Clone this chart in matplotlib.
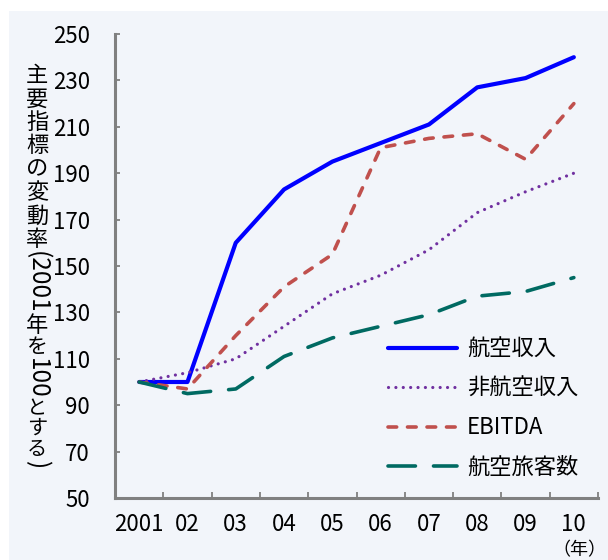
import matplotlib.pyplot as plt
import numpy as np
from matplotlib.patches import Rectangle
from matplotlib.font_manager import FontProperties

plt.rcParams['font.family'] = ['Noto Sans CJK JP', 'DejaVu Sans']

years = ['2001', '02', '03', '04', '05', '06', '07', '08', '09', '10']
air_rev = [100, 100, 160, 183, 195, 203, 211, 227, 231, 240]
nonair_rev = [100, 104, 110, 124, 138, 146, 157, 173, 182, 190]
ebitda = [100, 97, 120, 141, 155, 201, 205, 207, 196, 220]
passengers = [100, 95, 97, 111, 119, 124, 129, 137, 139, 145]

W, H = 608, 560
bg = '#f2f5fa'
grey = '#808080'

fig = plt.figure(figsize=(W / 100, H / 100), dpi=100)
fig.patches.append(Rectangle((9 / W, 0), 1, 1 - 11 / H, transform=fig.transFigure,
                             facecolor=bg, edgecolor='none', zorder=-10))

ax = fig.add_axes([115 / W, 62 / H, 483 / W, 464 / H])
ax.set_facecolor('none')

x = np.arange(len(years))
ax.plot(x, air_rev, color='#0000ff', lw=3, solid_capstyle='round', label='航空収入')
ax.plot(x, nonair_rev, color='#7030a0', lw=2.3, linestyle=(0, (0.01, 2.3)),
        dash_capstyle='round', label='非航空収入')
ax.plot(x, ebitda, color='#c0504d', lw=2.6, linestyle=(0, (2.4, 3.0)),
        dash_capstyle='round', label='EBITDA')
ax.plot(x, passengers, color='#006a62', lw=2.6, linestyle=(0, (7.6, 5.0)),
        dash_capstyle='round', label='航空旅客数')

ax.set_xlim(-0.5, len(years) - 0.5)
ax.set_ylim(50, 250)
ax.set_yticks(np.arange(50, 251, 20))
ax.set_xticks(x)
ax.set_xticklabels(years)
ax.set_xticks(np.arange(-0.5, len(years), 1), minor=True)

for s in ['top', 'right']:
    ax.spines[s].set_visible(False)
for s in ['left', 'bottom']:
    ax.spines[s].set_color(grey)
    ax.spines[s].set_linewidth(2.2)

ax.tick_params(axis='y', direction='in', length=3.6, width=1.3, color=grey,
               labelsize=16, pad=18)
ax.tick_params(axis='x', which='major', length=0, labelsize=16, pad=11)
ax.tick_params(axis='x', which='minor', direction='in', length=4.3, width=1.3, color=grey)

leg = ax.legend(loc='upper left', bbox_to_anchor=(0.565, 0.345), frameon=False,
                fontsize=16, handlelength=3.1, handletextpad=0.45, labelspacing=0.73,
                borderpad=0, borderaxespad=0)

fig.text(606 / W, 1 - 559 / H, '（年）', ha='right', va='bottom', fontsize=13)

# vertical y-axis title: kanji/kana upright, digits and brackets turned sideways
# (text, turned, slot height in px, font size)
pieces = [('主', 0, 23.4, 16), ('要', 0, 23.4, 16), ('指', 0, 23.4, 16), ('標', 0, 23.4, 16),
          ('の', 0, 23.4, 16), ('変', 0, 23.4, 16), ('動', 0, 23.4, 16), ('率', 0, 23.4, 16),
          ('(2001', 1, 0, 17.5), ('年', 0, 23, 16), ('を', 0, 21, 15), ('100', 1, 0, 17.5),
          ('と', 0, 20, 14.5), ('す', 0, 20, 14.5), ('る', 0, 21, 14.5), (')', 1, 0, 17.5)]
renderer = fig.canvas.get_renderer()
cx = 37
cur = 64.0
for s, turned, step, size in pieces:
    prop = FontProperties(family=['Noto Sans CJK JP', 'DejaVu Sans'], size=size)
    if turned:
        step, _, _ = renderer.get_text_width_height_descent(s, prop, ismath=False)
        fig.text(cx / W, 1 - (cur + step / 2) / H, s, rotation=-90,
                 ha='center', va='center', fontproperties=prop)
    else:
        fig.text(cx / W, 1 - (cur + step / 2) / H, s, ha='center', va='center',
                 fontproperties=prop)
    cur += step

fig.savefig('out.png', dpi=100, facecolor='white')
